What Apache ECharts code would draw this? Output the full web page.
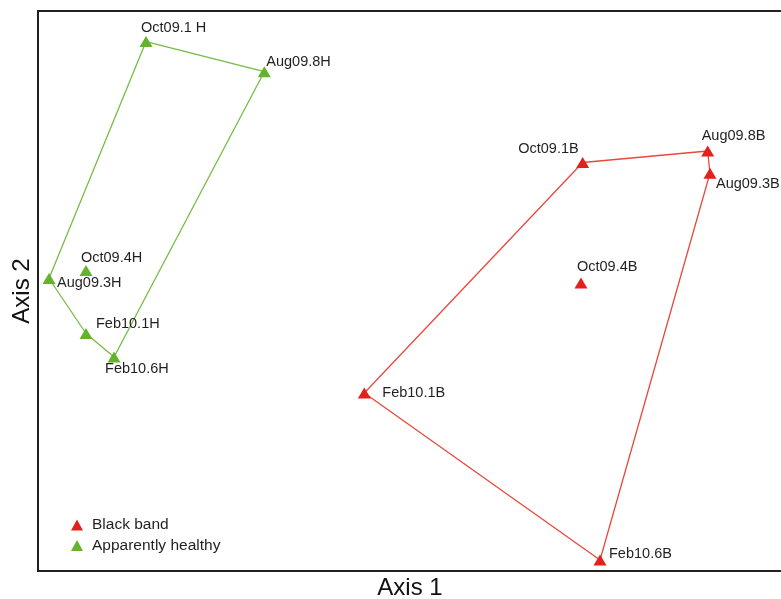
<!DOCTYPE html>
<html>
<head>
<meta charset="utf-8">
<script src="https://cdn.jsdelivr.net/npm/echarts@6/dist/echarts.min.js"></script>
<style>
  html, body { margin: 0; padding: 0; background: #fff; }
  #chart { width: 781px; height: 599px; }
</style>
</head>
<body>
<div id="chart"></div>
<script>
// ---- Data (arbitrary ordination units) ----
const healthyNames = ['Oct09.1 H', 'Aug09.8H', 'Oct09.4H', 'Aug09.3H', 'Feb10.1H', 'Feb10.6H'];
const healthyX = [14.52, 30.42, 6.45, 1.48, 6.45, 10.22];
const healthyY = [94.55, 89.16, 53.66, 52.23, 42.41, 38.21];
const healthyHull = [0, 1, 5, 4, 3, 0];

const blackNames = ['Oct09.1B', 'Aug09.8B', 'Aug09.3B', 'Oct09.4B', 'Feb10.1B', 'Feb10.6B'];
const blackX = [73.21, 90.01, 90.32, 72.98, 43.86, 75.54];
const blackY = [72.95, 75.00, 71.02, 51.43, 31.79, 1.96];
const blackHull = [0, 1, 2, 5, 4, 0];

const legendNames = ['Black band', 'Apparently healthy'];
const axisNames = ['Axis 1', 'Axis 2'];

// ---- Label placement (style only) ----
const labelPlacement = {
  'Oct09.1 H': { offset: [-5, -14], align: 'left' },
  'Aug09.8H':  { offset: [2, -10], align: 'left' },
  'Oct09.4H':  { offset: [-5, -13], align: 'left' },
  'Aug09.3H':  { offset: [8, 4], align: 'left' },
  'Feb10.1H':  { offset: [10, -10], align: 'left' },
  'Feb10.6H':  { offset: [-9, 12], align: 'left' },
  'Oct09.1B':  { offset: [-4, -13.5], align: 'right' },
  'Aug09.8B':  { offset: [-6, -15.5], align: 'left' },
  'Aug09.3B':  { offset: [6, 11], align: 'left' },
  'Oct09.4B':  { offset: [-4, -16], align: 'left' },
  'Feb10.1B':  { offset: [18, 0], align: 'left' },
  'Feb10.6B':  { offset: [9, -6], align: 'left' }
};

const GREEN = '#64B22D';
const GREEN_LINE = '#76BC45';
const RED = '#E3201B';
const RED_LINE = '#E8493E';
const FONT = '"Liberation Sans", Arial, Helvetica, sans-serif';

function points(names, xs, ys) {
  return names.map((n, i) => {
    const p = labelPlacement[n];
    return {
      name: n,
      value: [xs[i], ys[i]],
      label: {
        show: true,
        formatter: n,
        position: 'inside',
        offset: p.offset,
        align: p.align,
        verticalAlign: 'middle'
      }
    };
  });
}
function hull(xs, ys, order) {
  return order.map(i => [xs[i], ys[i]]);
}

const chart = echarts.init(document.getElementById('chart'), null, { renderer: 'canvas' });
chart.setOption({
  animation: false,
  backgroundColor: '#fff',
  textStyle: { fontFamily: FONT },
  grid: {
    left: 38, top: 11, width: 744, height: 560,
    outerBoundsMode: 'none', containLabel: false,
    show: true, borderColor: '#231f20', borderWidth: 2, backgroundColor: 'transparent'
  },
  legend: {
    data: legendNames,
    orient: 'vertical',
    left: 66, top: 512,
    itemWidth: 12, itemHeight: 11, itemGap: 4.5,
    icon: 'triangle',
    textStyle: { fontSize: 15.5, color: '#231f20', fontFamily: FONT, padding: [0, 0, 0, 4] }
  },
  xAxis: {
    type: 'value', min: 0, max: 100,
    name: axisNames[0], nameLocation: 'middle', nameGap: 5,
    nameTextStyle: { fontSize: 24, color: '#111', fontFamily: FONT },
    axisLine: { show: false }, axisTick: { show: false },
    axisLabel: { show: false }, splitLine: { show: false }
  },
  yAxis: {
    type: 'value', min: 0, max: 100,
    name: axisNames[1], nameLocation: 'middle', nameGap: 4,
    nameTextStyle: { fontSize: 24, color: '#111', fontFamily: FONT },
    axisLine: { show: false }, axisTick: { show: false },
    axisLabel: { show: false }, splitLine: { show: false }
  },
  series: [
    {
      name: 'healthyHull', type: 'line', data: hull(healthyX, healthyY, healthyHull),
      symbol: 'none', lineStyle: { color: GREEN_LINE, width: 1.3 }, z: 1, silent: true
    },
    {
      name: 'blackHull', type: 'line', data: hull(blackX, blackY, blackHull),
      symbol: 'none', lineStyle: { color: RED_LINE, width: 1.3 }, z: 1, silent: true
    },
    {
      name: legendNames[0], type: 'scatter', data: points(blackNames, blackX, blackY),
      symbol: 'triangle', symbolSize: [13, 11],
      itemStyle: { color: RED, opacity: 1 },
      label: { fontSize: 14.5, color: '#231f20', fontFamily: FONT },
      z: 3
    },
    {
      name: legendNames[1], type: 'scatter', data: points(healthyNames, healthyX, healthyY),
      symbol: 'triangle', symbolSize: [13, 11],
      itemStyle: { color: GREEN, opacity: 1 },
      label: { fontSize: 14.5, color: '#231f20', fontFamily: FONT },
      z: 3
    }
  ]
});
</script>
</body>
</html>
